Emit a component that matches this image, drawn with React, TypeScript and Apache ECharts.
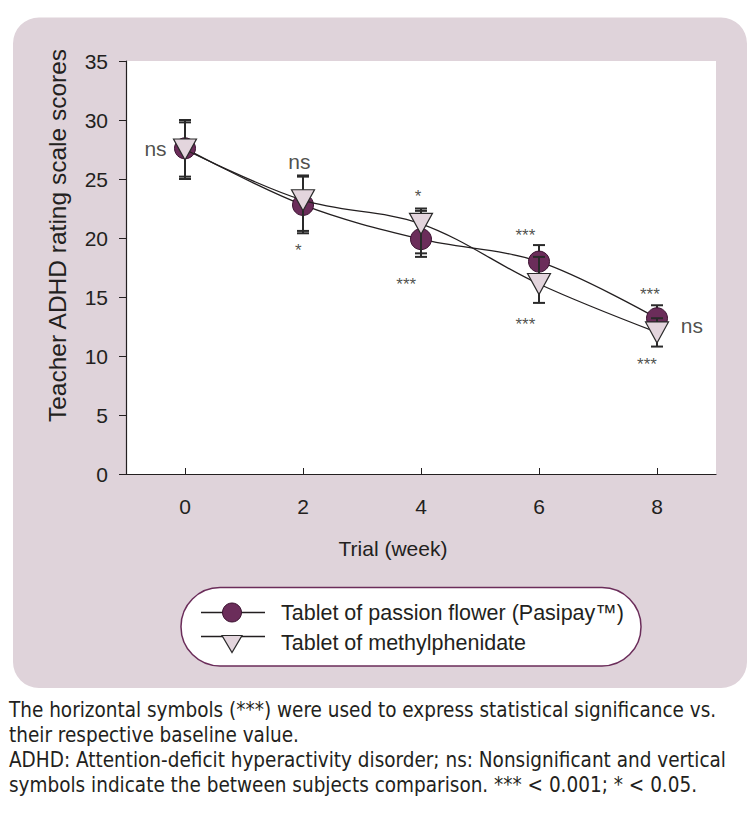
import React, { useEffect, useRef } from "react";
import * as echarts from "echarts";

// ---- data ----
const weeks = [0, 2, 4, 6, 8];
const xTickValues = [0, 2, 4, 6, 8];
const yTickInterval = 5;
const yMax = 35;

const passionMean = [27.6, 22.8, 19.9, 18.0, 13.2];
const passionLow = [25.0, 20.4, 18.4, 16.6, 12.1];
const passionHigh = [30.0, 25.2, 22.3, 19.4, 14.3];

const methylMean = [27.5, 23.2, 21.2, 16.1, 12.0];
const methylLow = [25.2, 20.6, 18.7, 14.5, 10.8];
const methylHigh = [29.8, 25.3, 22.5, 18.4, 13.2];

const annoText = ["ns", "ns", "*", "*", "***", "***", "***", "***", "***", "ns"];
const annoX = [-0.5, 1.94, 1.92, 3.95, 3.75, 5.77, 5.77, 7.88, 7.83, 8.59];
const annoY = [27.55, 26.45, 18.9, 23.55, 16.05, 20.25, 12.7, 15.25, 9.25, 12.55];

const legendNames = ["Tablet of passion flower (Pasipay\u2122)", "Tablet of methylphenidate"];
const yAxisName = "Teacher ADHD rating scale scores";
const xAxisName = "Trial (week)";
const captionLines = [
  "The horizontal symbols (***) were used to express statistical significance vs.",
  "their respective baseline value.",
  "ADHD: Attention-deficit hyperactivity disorder; ns: Nonsignificant and vertical",
  "symbols indicate the between subjects comparison. *** < 0.001; * < 0.05.",
];

const FONT = "'Liberation Sans', Arial, Helvetica, sans-serif";
const CAP_FONT = "'Liberation Sans Narrow', 'DejaVu Sans Condensed', 'Liberation Sans', sans-serif";
const TXT = "#231f20";
const PURPLE = "#6b2d5a";
const PINK = "#dfd3da";
const TRI = "#e3d5dd";

function errorBarSeries(low: number[], high: number[], z: number) {
  return {
    type: "custom",
    z,
    silent: true,
    data: weeks.map((w, i) => [w, low[i], high[i]]),
    encode: { x: 0, y: [1, 2] },
    renderItem: (params: any, api: any) => {
      const x = api.value(0);
      const lo = api.coord([x, api.value(1)]);
      const hi = api.coord([x, api.value(2)]);
      const w = 6;
      const st = { stroke: "#2a2a2a", lineWidth: 2 };
      return {
        type: "group",
        children: [
          { type: "line", shape: { x1: lo[0], y1: lo[1], x2: hi[0], y2: hi[1] }, style: st },
          { type: "line", shape: { x1: hi[0] - w, y1: hi[1], x2: hi[0] + w, y2: hi[1] }, style: st },
          { type: "line", shape: { x1: lo[0] - w, y1: lo[1], x2: lo[0] + w, y2: lo[1] }, style: st },
        ],
      };
    },
  };
}

export default function App() {
  const ref = useRef<HTMLDivElement>(null);
  useEffect(() => {
    document.body.style.margin = "0";
    const chart = echarts.init(ref.current!, null, { renderer: "svg" });
    const legendRow = [612.5, 642.5];
    const option: any = {
      animation: false,
      textStyle: { fontFamily: FONT },
      grid: {
        left: 126,
        right: 36,
        top: 61,
        bottom: 340,
        show: true,
        backgroundColor: "#ffffff",
        borderWidth: 0,
      },
      xAxis: {
        type: "value",
        min: -1,
        max: 9,
        name: xAxisName,
        nameLocation: "middle",
        nameGap: 64,
        nameTextStyle: { fontSize: 21, color: TXT, fontFamily: FONT, padding: [0, 56, 0, 0] },
        axisLine: { show: true, onZero: false, lineStyle: { color: TXT, width: 1.2 } },
        axisTick: { show: true, inside: true, length: 6, customValues: xTickValues, lineStyle: { color: TXT } },
        axisLabel: { customValues: xTickValues, fontSize: 21, color: TXT, margin: 22, fontFamily: FONT },
        splitLine: { show: false },
      },
      yAxis: {
        type: "value",
        min: 0,
        max: yMax,
        interval: yTickInterval,
        name: yAxisName,
        nameLocation: "middle",
        nameGap: 56,
        nameTextStyle: { fontSize: 24.5, color: TXT, fontFamily: FONT, padding: [0, 0, 0, 64] },
        axisLine: { show: true, onZero: false, lineStyle: { color: TXT, width: 1.2 } },
        axisTick: { show: true, inside: false, length: 7, lineStyle: { color: TXT } },
        axisLabel: { fontSize: 21, color: TXT, margin: 18, fontFamily: FONT },
        splitLine: { show: false },
      },
      series: [
        errorBarSeries(passionLow, passionHigh, 2),
        {
          type: "line",
          name: legendNames[0],
          z: 3,
          smooth: 0.35,
          data: weeks.map((w, i) => [w, passionMean[i]]),
          symbol: "circle",
          symbolSize: 21,
          lineStyle: { color: TXT, width: 1.3 },
          itemStyle: { color: PURPLE, borderColor: "#3b1230", borderWidth: 1 },
        },
        errorBarSeries(methylLow, methylHigh, 4),
        {
          type: "line",
          name: legendNames[1],
          z: 5,
          smooth: 0.35,
          data: weeks.map((w, i) => [w, methylMean[i]]),
          symbol: "triangle",
          symbolRotate: 180,
          symbolSize: [23, 21],
          lineStyle: { color: TXT, width: 1.3 },
          itemStyle: { color: TRI, borderColor: "#2a2a2a", borderWidth: 1.2 },
        },
        {
          type: "scatter",
          z: 6,
          silent: true,
          symbolSize: 1,
          itemStyle: { color: "transparent" },
          data: annoX.map((x, i) => ({
            value: [x, annoY[i]],
            label: {
              show: true,
              position: "inside",
              formatter: annoText[i],
              fontSize: annoText[i] === "ns" ? 21 : 17,
              color: TXT,
              fontFamily: FONT,
            },
          })),
        },
      ],
      graphic: [
        {
          type: "rect",
          z: -100,
          silent: true,
          shape: { x: 13, y: 17.5, width: 734, height: 670.5, r: 26 },
          style: { fill: PINK },
        },
        {
          type: "rect",
          z: 10,
          silent: true,
          shape: { x: 181, y: 587.5, width: 460, height: 78.5, r: 39 },
          style: { fill: "#ffffff", stroke: PURPLE, lineWidth: 1.5 },
        },
        {
          type: "line",
          z: 11,
          shape: { x1: 201, y1: legendRow[0], x2: 265, y2: legendRow[0] },
          style: { stroke: TXT, lineWidth: 1.3 },
        },
        {
          type: "circle",
          z: 12,
          shape: { cx: 232, cy: legendRow[0], r: 9.5 },
          style: { fill: PURPLE, stroke: "#3b1230", lineWidth: 1 },
        },
        {
          type: "line",
          z: 11,
          shape: { x1: 201, y1: legendRow[1] - 6, x2: 265, y2: legendRow[1] - 6 },
          style: { stroke: TXT, lineWidth: 1.3 },
        },
        {
          type: "polygon",
          z: 12,
          shape: { points: [[222, legendRow[1] - 7], [242, legendRow[1] - 7], [232, legendRow[1] + 10]] },
          style: { fill: TRI, stroke: "#2a2a2a", lineWidth: 1.2 },
        },
        {
          type: "text",
          z: 12,
          x: 281,
          y: legendRow[0],
          style: { text: legendNames[0], fontSize: 21.5, fill: TXT, fontFamily: FONT, verticalAlign: "middle" },
        },
        {
          type: "text",
          z: 12,
          x: 281,
          y: legendRow[1],
          style: { text: legendNames[1], fontSize: 21.5, fill: TXT, fontFamily: FONT, verticalAlign: "middle" },
        },
        ...captionLines.map((t, i) => ({
          type: "text",
          z: 12,
          x: 9,
          y: 710 + i * 25,
          style: { text: t, fontSize: 20.5, fill: TXT, fontFamily: CAP_FONT, verticalAlign: "middle" },
        })),
      ],
    };
    chart.setOption(option);
    return () => chart.dispose();
  }, []);
  return <div ref={ref} style={{ width: 752, height: 814 }} />;
}
